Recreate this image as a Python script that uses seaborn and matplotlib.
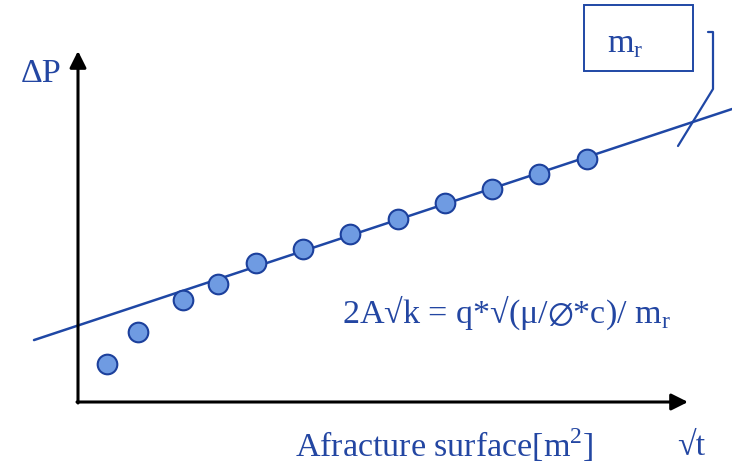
import numpy as np
import matplotlib
matplotlib.use("Agg")
import matplotlib.pyplot as plt
import seaborn as sns
from matplotlib.patches import Rectangle

# measured points: sqrt(t) vs pressure drop (arbitrary units)
sqrt_t = [2.93, 5.97, 10.5, 14.0, 17.77, 22.47, 27.15, 31.97, 36.7, 41.43, 46.13, 50.87]
delta_p = [3.8, 7.03, 10.17, 11.83, 13.87, 15.33, 16.85, 18.33, 19.87, 21.33, 22.83, 24.3]

# straight-line fit (slope m_r) drawn across the chart
fit_intercept = 7.65
fit_slope = 0.331
fit_x_range = [-4.4, 65.4]

y_label = "ΔP"
x_label = r"Afracture surface[m$^{\mathregular{2}}$]"
x_end_label = "√t"
formula = r"2A√k = q*√(μ/$\emptyset$*c)/ m$_{\mathregular{r}}$"
box_label = r"m$_{\mathregular{r}}$"

TEXT_BLUE = "#2346a2"
LINE_BLUE = "#1f47a5"
FILL_BLUE = "#6f9be2"
EDGE_BLUE = "#1c409c"

sns.set_theme(style="white")
plt.rcParams["font.family"] = ["Liberation Serif", "DejaVu Serif"]
plt.rcParams["mathtext.fontset"] = "custom"
plt.rcParams["mathtext.rm"] = "Liberation Serif"
plt.rcParams["mathtext.fallback"] = "stix"

fig = plt.figure(figsize=(7.32, 4.63), dpi=100)
ax = fig.add_axes([0, 0, 1, 1])
ax.set_xlim(-7.8, 65.4)
ax.set_ylim(-6.1, 40.2)
ax.axis("off")

# fit line
line_x = np.array(fit_x_range)
sns.lineplot(x=line_x, y=fit_intercept + fit_slope * line_x, ax=ax,
             color=LINE_BLUE, linewidth=1.8, zorder=2)

# data points
sns.scatterplot(x=sqrt_t, y=delta_p, ax=ax, s=200, color=FILL_BLUE,
                edgecolor=EDGE_BLUE, linewidth=1.5, zorder=3)

# hand-drawn style axes with arrow heads
arrow = dict(arrowstyle="-|>,head_length=1.0,head_width=0.5", color="black",
             lw=2.2, shrinkA=0, shrinkB=0, mutation_scale=10)
ax.annotate("", xy=(61.0, 0), xytext=(-0.1, 0), arrowprops=arrow, zorder=4)
ax.annotate("", xy=(0, 35.1), xytext=(0, -0.1), arrowprops=arrow, zorder=4)

ax.text(-5.7, 32.0, y_label, color=TEXT_BLUE, fontsize=24.5, va="baseline", ha="left")
ax.text(21.7, -5.47, x_label, color=TEXT_BLUE, fontsize=24.5, va="baseline", ha="left")
ax.text(59.9, -5.3, x_end_label, color=TEXT_BLUE, fontsize=24.5, va="baseline", ha="left")
ax.text(26.4, 7.9, formula, color=TEXT_BLUE, fontsize=24.5, va="baseline", ha="left")

# callout box for the slope
ax.add_patch(Rectangle((50.6, 33.1), 10.9, 6.6, fill=False,
                       edgecolor=LINE_BLUE, linewidth=1.4, zorder=4))
ax.text(52.9, 35.0, box_label, color=TEXT_BLUE, fontsize=24.5, va="baseline", ha="left")
ax.plot([63.0, 63.5, 63.5, 60.0], [37.0, 37.0, 31.3, 25.6],
        color=LINE_BLUE, linewidth=1.6, zorder=4)

fig.savefig("out.png", dpi=100)
